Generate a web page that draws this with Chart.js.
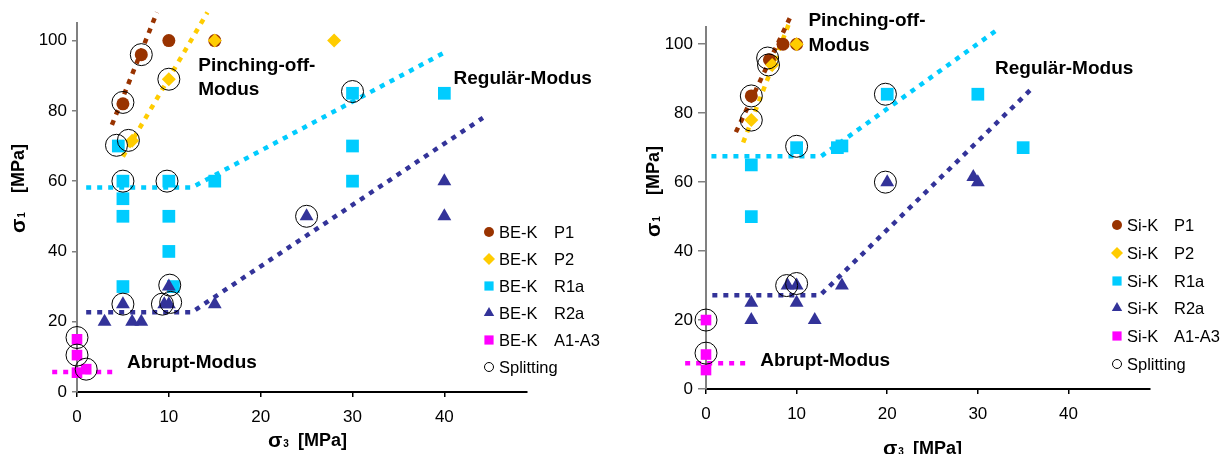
<!DOCTYPE html>
<html>
<head>
<meta charset="utf-8">
<script src="https://cdn.jsdelivr.net/npm/chart.js@4.4.0/dist/chart.umd.min.js"></script>
<style>
  html, body { margin: 0; padding: 0; background: #fff; }
  #wrap { position: relative; width: 1228px; height: 454px; overflow: hidden; }
  .box { position: absolute; top: 0; height: 454px; }
  #left { left: 0; width: 610px; }
  #right { left: 610px; width: 618px; }
</style>
</head>
<body>
<div id="wrap">
  <div class="box" id="left"><canvas id="c1" width="610" height="454"></canvas></div>
  <div class="box" id="right"><canvas id="c2" width="618" height="454"></canvas></div>
</div>
<script>
// ---- Daten ----
const xTicks = [0, 10, 20, 30, 40];
const yTicks = [0, 20, 40, 60, 80, 100];
const seriesCodes = ['P1', 'P2', 'R1a', 'R2a', 'A1-A3'];

// BE-K (links)
const beP1 = [[5, 82], [7, 96], [10, 100], [15, 100]];
const beP2 = [[6, 71.5], [10, 89], [15, 100], [28, 100]];
const beR1a = [[4.5, 70], [5, 60], [5, 55], [5, 50], [5, 30], [10, 60], [10, 50], [10, 40], [10.5, 30],
               [15, 60], [30, 85], [30, 70], [30, 60], [40, 85]];
const beR2a = [[3, 20], [5, 25], [6, 20], [7, 20], [9.5, 25], [10, 30], [10, 25], [15, 25], [25, 50],
               [40, 60], [40, 50]];
const beA = [[0, 15], [0, 10.5], [0, 5.5], [1, 6.5]];
const beSplit = [[0, 15.5], [0, 10.5], [1, 6.5], [5, 25], [9.3, 25], [10.2, 25.5], [10.1, 30.4], [25, 50],
                 [5, 82.4], [7, 96], [10, 89], [5.6, 71.6], [4.3, 70.2], [5, 60], [9.8, 60], [30, 85.5]];
const beTrendP1 = [[3.8, 76], [8.7, 108]];
const beTrendP2 = [[5, 67], [14.2, 108]];
const beTrendR1a = [[1, 58.2], [12.5, 58.2], [40.3, 97]];
const beTrendR2a = [[1, 22.7], [12.5, 22.7], [44.2, 78]];
const beTrendA = [[-2.7, 5.7], [3.9, 5.7]];

// Si-K (rechts)
const siP1 = [[5, 85], [7, 95.5], [8.5, 100], [10, 100]];
const siP2 = [[5, 78], [7.3, 94], [10, 100]];
const siR1a = [[5, 65], [5, 50], [10, 70], [14.5, 70], [15, 70.5], [20, 85.5], [30, 85.5], [35, 70]];
const siR2a = [[5, 25], [5, 20], [9, 30], [10, 30], [10, 25], [12, 20], [15, 30], [20, 60], [29.5, 61.5], [30, 60]];
const siA = [[0, 20], [0, 10], [0, 5.5]];
const siSplit = [[5, 85], [5, 78], [6.8, 96], [6.9, 94], [10, 70.4], [19.8, 85.5], [19.8, 60], [0, 20],
                 [0, 10.4], [8.9, 30], [10, 30.6]];
const siTrendP1 = [[3.3, 74.5], [9.5, 109]];
const siTrendP2 = [[4.1, 71.5], [9.3, 107]];
const siTrendR1a = [[0.6, 67.5], [12.7, 67.5], [32.2, 104.3]];
const siTrendR2a = [[0.7, 27.2], [12.6, 27.2], [35.9, 87]];
const siTrendA = [[-2.3, 7.5], [4.5, 7.5]];

// ---- Stil ----
const FONT = 'Arial, "Liberation Sans", Helvetica, sans-serif';
const colors = ['#993300', '#FFCC00', '#00CCFF', '#333399', '#FF00FF'];
const styles = ['circle', 'rectRot', 'rect', 'triangle', 'rect'];
const radii = [6.5, 7, 9, 8, 7.5];
const legendRadii = [5, 6, 6.5, 6, 6.5];

const pts = arr => arr.map(p => ({ x: p[0], y: p[1] }));

function drawMarker(ctx, style, r, x, y) {
  ctx.beginPath();
  if (style === 'circle') {
    ctx.arc(x, y, r, 0, Math.PI * 2);
  } else if (style === 'rect') {
    const s = r * Math.SQRT1_2;
    ctx.rect(x - s, y - s, 2 * s, 2 * s);
  } else if (style === 'rectRot') {
    ctx.moveTo(x, y - r); ctx.lineTo(x + r, y); ctx.lineTo(x, y + r); ctx.lineTo(x - r, y);
    ctx.closePath();
  } else if (style === 'triangle') {
    ctx.moveTo(x, y - r);
    ctx.lineTo(x + r * Math.sin(2 * Math.PI / 3), y - r * Math.cos(2 * Math.PI / 3));
    ctx.lineTo(x + r * Math.sin(4 * Math.PI / 3), y - r * Math.cos(4 * Math.PI / 3));
    ctx.closePath();
  }
}

// Beschriftungen, Legende, Achsentitel
const decor = {
  id: 'decor',
  afterDraw(chart, args, o) {
    const { ctx } = chart;
    const xs = chart.scales.x, ys = chart.scales.y;
    ctx.save();
    ctx.fillStyle = '#000';
    ctx.textAlign = 'left';

    // Modus-Texte
    ctx.font = 'bold 19px ' + FONT;
    ctx.textBaseline = 'middle';
    o.notes.forEach(n => ctx.fillText(n.text, xs.getPixelForValue(n.x), ys.getPixelForValue(n.y)));

    // Legende
    const lg = o.legend;
    ctx.font = '16.5px ' + FONT;
    seriesCodes.forEach((code, i) => {
      const y = lg.rows[i];
      ctx.fillStyle = colors[i];
      drawMarker(ctx, styles[i], legendRadii[i], lg.markerX, y);
      ctx.fill();
      ctx.fillStyle = '#000';
      ctx.fillText(o.prefix, lg.textX, y + 1);
      ctx.fillText(code, lg.codeX, y + 1);
    });
    const ys5 = lg.rows[5];
    ctx.strokeStyle = '#000';
    ctx.lineWidth = 1;
    drawMarker(ctx, 'circle', 4.5, lg.markerX, ys5);
    ctx.stroke();
    ctx.fillText('Splitting', lg.textX, ys5 + 1);

    // Achsentitel
    ctx.textBaseline = 'alphabetic';
    const t = o.titles;
    const title = (sub) => {
      ctx.font = 'bold 21px ' + FONT;
      ctx.fillText('σ', 0, 0);
      const w = ctx.measureText('σ').width;
      ctx.font = 'bold 10px ' + FONT;
      ctx.fillText(sub, w + 1, 0);
    };
    ctx.save();
    ctx.translate(t.yX, t.yY);
    ctx.rotate(-Math.PI / 2);
    title('1');
    ctx.font = 'bold 18px ' + FONT;
    ctx.fillText('[MPa]', t.yGap, -1);
    ctx.restore();

    ctx.save();
    ctx.translate(t.xX, t.xY);
    title('3');
    ctx.font = 'bold 18px ' + FONT;
    ctx.fillText('[MPa]', t.xGap, -1);
    ctx.restore();

    ctx.restore();
  }
};

function buildChart(id, d, lay) {
  const series = [d.p1, d.p2, d.r1a, d.r2a, d.a];
  const trends = [d.tP1, d.tP2, d.tR1a, d.tR2a, d.tA];
  const datasets = [];
  trends.forEach((tr, i) => datasets.push({
    data: pts(tr), showLine: true, borderColor: colors[i], borderWidth: 4.5,
    borderDash: [5, 6], borderCapStyle: 'butt', pointRadius: 0, fill: false,
    clip: false, order: 10
  }));
  series.forEach((s, i) => datasets.push({
    label: d.prefix + ' ' + seriesCodes[i], data: pts(s), pointStyle: styles[i],
    pointRadius: radii[i], backgroundColor: colors[i], borderColor: colors[i],
    borderWidth: 0, clip: false, order: 6 - i
  }));
  datasets.push({
    label: 'Splitting', data: pts(d.split), pointStyle: 'circle', pointRadius: 11,
    backgroundColor: 'rgba(0,0,0,0)', borderColor: '#000', borderWidth: 1, clip: false, order: 0
  });

  return new Chart(document.getElementById(id), {
    type: 'scatter',
    data: { datasets },
    options: {
      responsive: false,
      animation: false,
      events: [],
      layout: { padding: { left: 0, top: lay.top, right: lay.right, bottom: 0 } },
      plugins: {
        legend: { display: false },
        tooltip: { enabled: false },
        decor: { notes: lay.notes, legend: lay.legend, titles: lay.titles, prefix: d.prefix }
      },
      scales: {
        x: {
          type: 'linear', min: 0, max: 49,
          afterBuildTicks: s => { s.ticks = xTicks.map(v => ({ value: v })); },
          afterFit: s => { s.height = lay.xHeight; },
          grid: { drawOnChartArea: false, drawTicks: true, tickLength: 5, color: '#000', lineWidth: 1.5 },
          border: { color: '#000', width: 2 },
          ticks: { color: '#000', font: { family: FONT, size: 17 }, padding: 10, maxRotation: 0 }
        },
        y: {
          type: 'linear', min: 0, max: 105,
          afterBuildTicks: s => { s.ticks = yTicks.map(v => ({ value: v })); },
          afterFit: s => { s.width = lay.yWidth; },
          grid: { drawOnChartArea: false, drawTicks: true, tickLength: lay.yTick, color: '#808080', lineWidth: 1.5 },
          border: { color: '#808080', width: 2 },
          ticks: { color: '#000', font: { family: FONT, size: 17 }, padding: 5 }
        }
      }
    },
    plugins: [decor]
  });
}

buildChart('c1', {
  prefix: 'BE-K', p1: beP1, p2: beP2, r1a: beR1a, r2a: beR2a, a: beA, split: beSplit,
  tP1: beTrendP1, tP2: beTrendP2, tR1a: beTrendR1a, tR2a: beTrendR2a, tA: beTrendA
}, {
  top: 23, right: 83, xHeight: 62, yWidth: 77, yTick: 5,
  notes: [
    { text: 'Pinching-off-', x: 13.2, y: 92.9 },
    { text: 'Modus', x: 13.2, y: 86.1 },
    { text: 'Regulär-Modus', x: 41.0, y: 89.2 },
    { text: 'Abrupt-Modus', x: 5.45, y: 8.2 }
  ],
  legend: { markerX: 489, textX: 499, codeX: 554, rows: [232, 259, 286, 313, 340, 367] },
  titles: { yX: 25, yY: 233, yGap: 40, xX: 268, xY: 447, xGap: 30 }
});

buildChart('c2', {
  prefix: 'Si-K', p1: siP1, p2: siP2, r1a: siR1a, r2a: siR2a, a: siA, split: siSplit,
  tP1: siTrendP1, tP2: siTrendP2, tR1a: siTrendR1a, tR2a: siTrendR2a, tA: siTrendA
}, {
  top: 27, right: 78, xHeight: 65, yWidth: 96, yTick: 8,
  notes: [
    { text: 'Pinching-off-', x: 11.3, y: 106.7 },
    { text: 'Modus', x: 11.3, y: 99.7 },
    { text: 'Regulär-Modus', x: 31.9, y: 93.0 },
    { text: 'Abrupt-Modus', x: 6.0, y: 8.1 }
  ],
  legend: { markerX: 507, textX: 517, codeX: 564, rows: [225, 253, 281, 308, 336, 364] },
  titles: { yX: 50, yY: 237, yGap: 42, xX: 273, xY: 455, xGap: 30 }
});
</script>
</body>
</html>
